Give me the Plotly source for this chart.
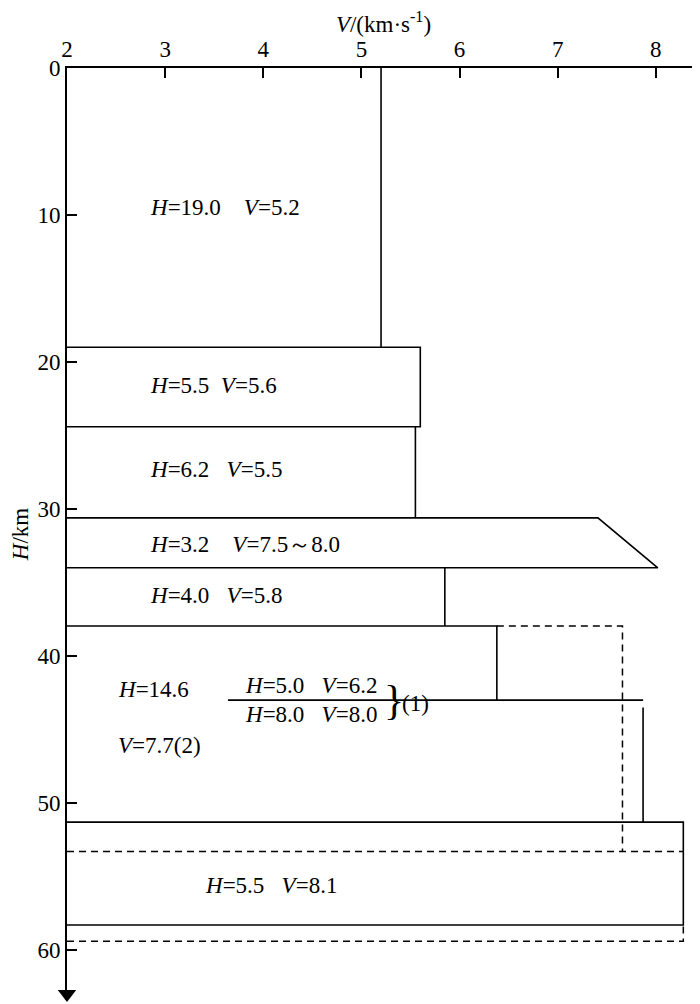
import plotly.graph_objects as go

# ---- data ----
# layer boundary depths (km)
z_top = 0.0
z_b1 = 19.0     # base of layer V=5.2
z_b2 = 24.4     # base of layer V=5.6
z_b3 = 30.6     # base of layer V=5.5
z_b4 = 34.0     # base of layer V=7.5~8.0
z_b5 = 37.96    # base of layer V=5.8
z_b6a = 43.0    # base of sub-layer V=6.2
z_b6b = 43.5    # start of V=8.0 segment
z_b7 = 51.3     # top of layer V=8.1
z_b7d = 53.3    # dashed alternative boundary
z_b8 = 58.3     # base of layer V=8.1
z_b8d = 59.4    # dashed alternative base

# layer velocities (km/s) as drawn
v1 = 5.2
v2 = 5.6
v3 = 5.55
v4_top, v4_bot = 7.41, 8.02
v5 = 5.85
v6a = 6.38
v6b = 7.87
v6d = 7.66
v7 = 8.28
x_sub_start = 3.64

x_ticks = [2, 3, 4, 5, 6, 7, 8]
y_ticks = [0, 10, 20, 30, 40, 50, 60]

solid_segments = [
    ([v1, v1], [z_top, z_b1]),
    ([2, v2, v2, 2], [z_b1, z_b1, z_b2, z_b2]),
    ([v3, v3], [z_b2, z_b3]),
    ([2, v4_top, v4_bot, 2], [z_b3, z_b3, z_b4, z_b4]),
    ([v5, v5], [z_b4, z_b5]),
    ([2, v6a, v6a], [z_b5, z_b5, z_b6a]),
    ([x_sub_start, v6b], [z_b6a, z_b6a]),
    ([v6b, v6b], [z_b6b, z_b7]),
    ([2, v7, v7, 2], [z_b7, z_b7, z_b8, z_b8]),
]
dashed_segments = [
    ([v6a, v6d, v6d], [z_b5, z_b5, z_b7d]),
    ([2, v7], [z_b7d, z_b7d]),
    ([2, v7, v7], [z_b8d, z_b8d, z_b8]),
]

S = "&nbsp;"
labels = [
    (2.826, 9.5, "<i>H</i>=19.0" + S * 4 + "<i>V</i>=5.2"),
    (2.826, 21.6, "<i>H</i>=5.5" + S * 2 + "<i>V</i>=5.6"),
    (2.826, 27.3, "<i>H</i>=6.2" + S * 3 + "<i>V</i>=5.5"),
    (2.826, 32.4, "<i>H</i>=3.2" + S * 4 + "<i>V</i>=7.5～8.0"),
    (2.826, 35.9, "<i>H</i>=4.0" + S * 3 + "<i>V</i>=5.8"),
    (2.5, 42.3, "<i>H</i>=14.6"),
    (2.5, 46.1, "<i>V</i>=7.7(2)"),
    (3.79, 42.0, "<i>H</i>=5.0" + S * 3 + "<i>V</i>=6.2"),
    (3.79, 44.0, "<i>H</i>=8.0" + S * 3 + "<i>V</i>=8.0"),
    (3.39, 55.6, "<i>H</i>=5.5" + S * 3 + "<i>V</i>=8.1"),
]

FONT = "Liberation Serif, Times New Roman, serif"
FS = 23
fig = go.Figure()
for xs, ys in solid_segments:
    fig.add_trace(go.Scatter(x=xs, y=ys, mode="lines",
                             line=dict(color="black", width=1.6),
                             hoverinfo="skip", showlegend=False))
for xs, ys in dashed_segments:
    fig.add_trace(go.Scatter(x=xs, y=ys, mode="lines",
                             line=dict(color="black", width=1.5, dash="7px,5px"),
                             hoverinfo="skip", showlegend=False))

# arrow head at the bottom of the depth axis
fig.add_trace(go.Scatter(x=[2], y=[63.0], mode="markers",
                         marker=dict(symbol="triangle-down", size=16, color="black"),
                         cliponaxis=False, hoverinfo="skip", showlegend=False))

for x, y, t in labels:
    fig.add_annotation(x=x, y=y, text=t, showarrow=False, xanchor="left",
                       yanchor="middle", font=dict(family=FONT, size=FS, color="black"))

# brace and (1)
fig.add_annotation(x=5.21, y=43.0, text="}", showarrow=False, xanchor="left",
                   yanchor="middle", font=dict(family=FONT, size=42, color="black"))
fig.add_annotation(x=5.39, y=43.2, text="(1)", showarrow=False, xanchor="left",
                   yanchor="middle", font=dict(family=FONT, size=FS, color="black"))

# page body has an 8px margin: size the figure to sit inside the 700x1004 window
fig.update_layout(
    width=692, height=996,
    margin=dict(l=59, r=0, t=60, b=4, autoexpand=False),
    plot_bgcolor="white", paper_bgcolor="white",
    font=dict(family=FONT, size=FS, color="black"),
    xaxis=dict(side="top", range=[2, 8.45], tickvals=x_ticks,
               ticks="inside", ticklen=10, tickwidth=1.5, tickcolor="black",
               showline=True, linecolor="black", linewidth=1.6,
               showgrid=False, zeroline=False, automargin=False,
               tickfont=dict(family=FONT, size=FS),
               title=dict(text="<i>V</i>/(km·s<sup>-1</sup>)", standoff=8,
                          font=dict(family=FONT, size=FS))),
    yaxis=dict(range=[63.4, 0], tickvals=y_ticks,
               ticks="inside", ticklen=10, tickwidth=1.5, tickcolor="black",
               showline=True, linecolor="black", linewidth=1.6,
               showgrid=False, zeroline=False, automargin=False,
               tickfont=dict(family=FONT, size=FS),
               title=dict(text="<i>H</i>/km", standoff=9,
                          font=dict(family=FONT, size=FS))),
)

fig.write_html("out.html")
